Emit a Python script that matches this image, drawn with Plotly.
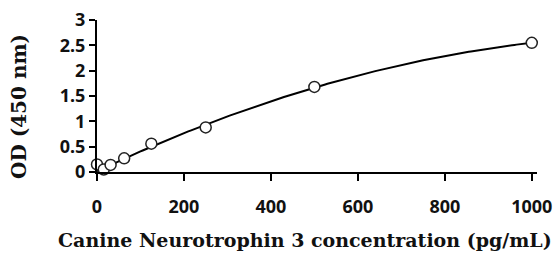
import numpy as np
import plotly.graph_objects as go

concentration = [0, 15.6, 31.25, 62.5, 125, 250, 500, 1000]
od_values = [0.15, 0.05, 0.14, 0.27, 0.56, 0.88, 1.68, 2.55]
x_ticks = [0, 200, 400, 600, 800, 1000]
x_tick_labels = ["0", "200", "400", "600", "800", "1000"]
y_ticks = [0, 0.5, 1, 1.5, 2, 2.5, 3]
y_tick_labels = ["0", "0.5", "1", "1.5", "2", "2.5", "3"]
x_title = "Canine Neurotrophin 3 concentration (pg/mL)"
y_title = "OD (450 nm)"

# standard-curve fit through the standards (blank excluded)
coef = np.polyfit(concentration[1:], od_values[1:], 2)
fit_x = np.linspace(0, 1000, 201)
fit_y = np.polyval(coef, fit_x)

fig = go.Figure()
fig.add_trace(go.Scatter(x=fit_x, y=fit_y, mode="lines",
                         line=dict(color="black", width=2), cliponaxis=False,
                         hoverinfo="skip", showlegend=False))
fig.add_trace(go.Scatter(x=concentration, y=od_values, mode="markers",
                         marker=dict(symbol="circle", size=11, color="white",
                                     line=dict(color="#222", width=1.5)),
                         cliponaxis=False, showlegend=False))

tick_font = dict(family="Noto Sans", size=18, color="#111")
title_font = dict(family="DejaVu Serif", size=19, color="#111")
fig.update_layout(
    width=560, height=255,
    margin=dict(l=97, r=23, t=20, b=83),
    paper_bgcolor="white", plot_bgcolor="white",
    xaxis=dict(range=[0, 1012], tickvals=x_ticks,
               ticktext=["<b>%s</b>" % t for t in x_tick_labels],
               ticks="outside", ticklen=7, automargin=False,
               tickwidth=2, tickcolor="black", showline=True, linecolor="black",
               linewidth=2, showgrid=False, zeroline=False, tickfont=tick_font,
               ticklabelstandoff=10),
    yaxis=dict(range=[0, 3], tickvals=y_ticks,
               ticktext=["<b>%s</b>" % t for t in y_tick_labels],
               ticks="outside", ticklen=6, tickwidth=2, tickcolor="black",
               automargin=False,
               showline=True, linecolor="black", linewidth=2, showgrid=False,
               zeroline=False, tickfont=tick_font),
    annotations=[
        dict(text="<b>%s</b>" % x_title, xref="paper", yref="paper",
             x=(305 - 97) / 440, y=-(240 - 172) / 152, xanchor="center",
             yanchor="middle", showarrow=False, font=title_font),
        dict(text="<b>%s</b>" % y_title, xref="paper", yref="paper",
             x=(19 - 97) / 440, y=(172 - 107) / 152, xanchor="center",
             yanchor="middle", showarrow=False, textangle=-90,
             font=dict(family="DejaVu Serif", size=20, color="#111")),
    ],
)
fig.write_html("out.html", config={"displayModeBar": False},
               post_script="document.body.style.margin='0px';")
